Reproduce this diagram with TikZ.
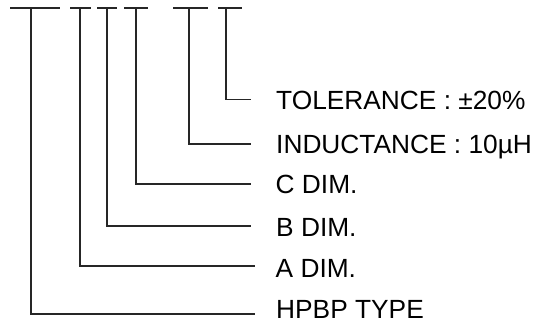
\documentclass[tikz,border=0pt]{standalone}
\usepackage{fontspec}
\setmainfont{Liberation Sans}
\begin{document}
\begin{tikzpicture}[x=1pt, y=-1pt,
    bar/.style={line width=2pt, draw=black!85},
    lead/.style={line width=1.6pt, draw=black!85},
    tagtext/.style={anchor=base west, inner sep=0pt, font=\fontsize{26.3}{30}\selectfont}]
  \useasboundingbox (0,0) rectangle (544,324);

  % Draw code bars
  \draw[bar] (10,7.5) -- (60,7.5);
  \draw[bar] (70,7.5) -- (91,7.5);
  \draw[bar] (97,7.5) -- (117,7.5);
  \draw[bar] (124,7.5) -- (148,7.5);
  \draw[bar] (173,7.5) -- (208,7.5);
  \draw[bar] (218,7.5) -- (242,7.5);

  % Taps under the bars
  \coordinate (type) at (31,7.5);
  \coordinate (adim) at (80,7.5);
  \coordinate (bdim) at (107,7.5);
  \coordinate (cdim) at (136,7.5);
  \coordinate (ind) at (189,7.5);
  \coordinate (tol) at (226,7.5);

  % Line ends
  \coordinate (typeend) at (255,314);
  \coordinate (adimend) at (255,266);
  \coordinate (bdimend) at (251,226);
  \coordinate (cdimend) at (251,184);
  \coordinate (indend) at (251,144);
  \coordinate (tolend) at (251,99.5);

  % Labels
  \node[tagtext] (tollabel) at (276,109.2) {TOLERANCE : ±20\%};
  \node[tagtext] (indlabel) at (276,153.2) {INDUCTANCE : 10µH};
  \node[tagtext] (cdimlabel) at (275.5,193.5) {C DIM.};
  \node[tagtext] (bdimlabel) at (276,236) {B DIM.};
  \node[tagtext] (adimlabel) at (275.5,277) {A DIM.};
  \node[tagtext] (typelabel) at (276,318.5) {HPBP TYPE};

  % Connect bars to label lines
  \draw[lead] (type) |- (typeend);
  \draw[lead] (adim) |- (adimend);
  \draw[lead] (bdim) |- (bdimend);
  \draw[lead] (cdim) |- (cdimend);
  \draw[lead] (ind) |- (indend);
  \draw[lead] (tol) |- (tolend);
\end{tikzpicture}
\end{document}
